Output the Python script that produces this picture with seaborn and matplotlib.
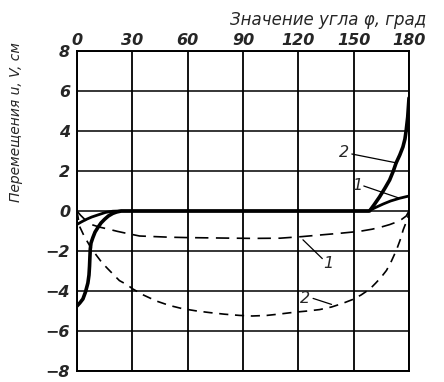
import matplotlib
matplotlib.use("Agg")
import matplotlib.pyplot as plt
import seaborn as sns
import numpy as np
import pandas as pd

# ---- data ----
x_ticks = [0, 30, 60, 90, 120, 150, 180]
y_ticks = [8, 6, 4, 2, 0, -2, -4, -6, -8]

solid1_x = [0, 2.5, 5, 8, 12.2, 15.5, 19.4, 23, 158, 162, 166, 170, 175, 180]
solid1_y = [-0.67, -0.54, -0.42, -0.3, -0.17, -0.07, -0.01, 0, 0, 0.18, 0.35, 0.5, 0.64, 0.75]

solid2_x = [0, 1.5, 3.2, 4.6, 5.9, 6.5, 6.8, 7.0, 7.2, 7.6, 8.6, 9.8, 11.3, 13, 14.9, 17, 19.4, 21.5, 24,
            158.6, 161, 164, 167, 169.5, 171.5, 173, 175, 176.7, 177.8, 178.5, 179.3, 180]
solid2_y = [-4.75, -4.6, -4.4, -4.05, -3.6, -3.2, -2.75, -2.3, -1.9, -1.6, -1.33, -1.05, -0.83, -0.6, -0.42, -0.25, -0.12, -0.05, 0,
            0, 0.3, 0.7, 1.15, 1.55, 2.0, 2.4, 2.8, 3.2, 3.6, 4.05, 4.7, 5.65]

dash1_x = [0, 2, 4, 5.9, 8.6, 12, 16.7, 22, 27, 33.9, 42, 50, 60, 77, 95, 110, 122, 133, 143, 153,
           160, 165, 169.5, 173, 176, 178.5, 180]
dash1_y = [0, -0.22, -0.4, -0.58, -0.7, -0.8, -0.9, -1.02, -1.12, -1.25, -1.28, -1.31, -1.33, -1.35,
           -1.37, -1.36, -1.28, -1.19, -1.11, -1.02, -0.91, -0.8, -0.68, -0.56, -0.42, -0.25, 0]

dash2_x = [0, 1.4, 4, 7, 10.4, 13.5, 16.7, 20, 23, 27, 30.3, 36, 43, 50, 57, 65, 72, 80, 88, 95,
           103, 110, 118, 125, 131.5, 138, 144, 149.6, 154, 158.8, 162, 165, 167.8, 170.5, 173.2,
           175.2, 176.9, 178.3, 179.4, 180]
dash2_y = [0, -0.77, -1.28, -1.75, -2.2, -2.58, -2.89, -3.2, -3.48, -3.68, -3.9, -4.2, -4.5, -4.72,
           -4.88, -5.0, -5.08, -5.16, -5.22, -5.25, -5.22, -5.15, -5.06, -5.0, -4.93, -4.8, -4.62,
           -4.42, -4.2, -3.9, -3.6, -3.3, -2.97, -2.5, -1.95, -1.45, -0.93, -0.6, -0.3, 0]

# labels: (text, text position, leader start, leader end)
labels = [
    ("2", (145, 2.95), (149, 2.85), (173.5, 2.4)),
    ("1", (152, 1.3), (155.5, 1.25), (174.5, 0.65)),
    ("1", (136, -2.63), (122.5, -1.44), (133, -2.38)),
    ("2", (123.8, -4.37), (128, -4.37), (138, -4.67)),
]

sns.set_theme(style="white")
plt.rcParams['font.family'] = ['DejaVu Sans']

fig = plt.figure(figsize=(4.44, 3.82), dpi=100)
ax = fig.add_axes([77/444, 1-371/382, (409-77)/444, (371-51)/382])

for xv in x_ticks:
    ax.axvline(xv, color='black', lw=1.3, zorder=1)
for yv in y_ticks:
    ax.axhline(yv, color='black', lw=1.1, zorder=1)

sns.lineplot(x=solid1_x, y=solid1_y, ax=ax, color='black', lw=2.0, estimator=None, zorder=3)
sns.lineplot(x=solid2_x, y=solid2_y, ax=ax, color='black', lw=2.6, estimator=None, zorder=3)
sns.lineplot(x=dash1_x, y=dash1_y, ax=ax, color='black', lw=1.2, estimator=None,
             linestyle=(0, (8, 4.5)), zorder=3)
sns.lineplot(x=dash2_x, y=dash2_y, ax=ax, color='black', lw=1.2, estimator=None,
             linestyle=(0, (5.5, 4)), zorder=3)

for txt, tp, ls, le in labels:
    ax.text(tp[0], tp[1], txt, fontsize=11.5, style='italic', ha='center', va='center')
    ax.plot([ls[0], le[0]], [ls[1], le[1]], color='black', lw=0.9)

ax.set_xlim(0, 180)
ax.set_ylim(-8, 8)
ax.xaxis.tick_top()
ax.set_xticks(x_ticks)
ax.set_yticks(y_ticks)
ax.set_xticklabels([str(v) for v in x_ticks], fontsize=11.5, style='italic', fontweight='semibold')
ax.set_yticklabels([str(v).replace('-', '\u2212') for v in y_ticks], fontsize=11.5,
                   style='italic', fontweight='semibold')
ax.tick_params(axis='y', length=0, pad=5)
ax.tick_params(axis='x', length=0, pad=2)
for s in ax.spines.values():
    s.set_color('black')
    s.set_linewidth(1.4)

fig.text(426/444, 1-20/382, "Значение угла φ, град", fontsize=12, style='italic',
         ha='right', va='center')
fig.text(16/444, 1-122/382, "Перемещения u, V, см", fontsize=10, style='italic',
         rotation=90, ha='center', va='center')

fig.savefig("out.png", dpi=100)
